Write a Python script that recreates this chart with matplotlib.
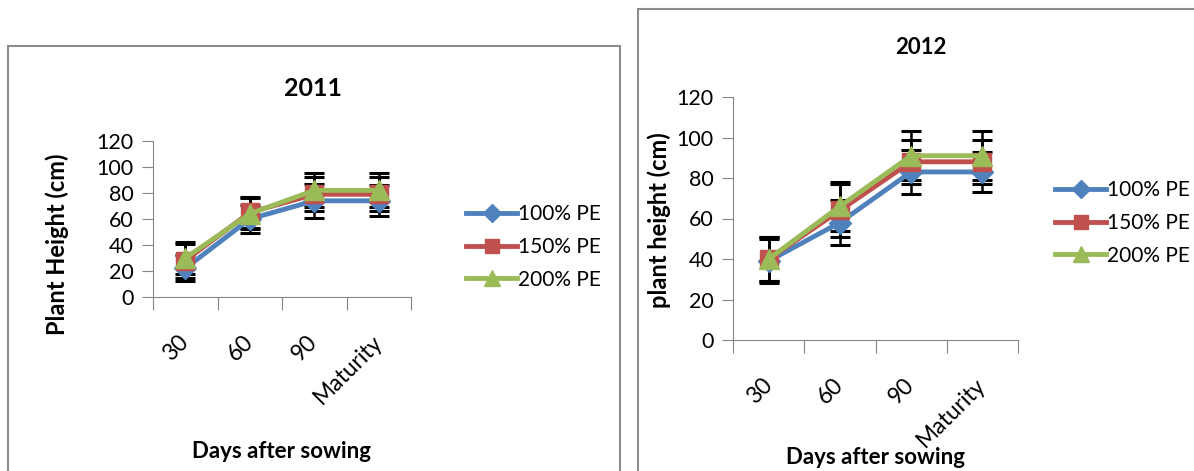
import matplotlib
matplotlib.use('Agg')
import matplotlib.pyplot as plt
from matplotlib.patches import Rectangle

plt.rcParams['font.family'] = ['Lato', 'DejaVu Sans']

# data
days = ['30', '60', '90', 'Maturity']
series = ['100% PE', '150% PE', '200% PE']

h2011_100 = [22, 60, 74, 74]
h2011_150 = [28, 65, 79, 79]
h2011_200 = [30, 64, 82, 82]
err2011_100 = [10, 11, 13, 12]
err2011_150 = [13, 12, 13, 13]
err2011_200 = [12, 12, 13, 13]

h2012_100 = [39, 58, 83, 83]
h2012_150 = [40, 64, 88, 88]
h2012_200 = [40, 66, 91, 91]
err2012_100 = [11, 11, 11, 10]
err2012_150 = [11, 13, 11, 11]
err2012_200 = [11, 12, 12, 12]

colors = ['#4F81BD', '#C0504D', '#9BBB59']
markers = ['D', 's', '^']
msizes = [11, 13, 14]
grey = '#868686'

W, H = 1194, 471
fig = plt.figure(figsize=(W / 100, H / 100), dpi=100)


def px_axes(x0, x1, y0, y1):
    return fig.add_axes([x0 / W, 1 - y1 / H, (x1 - x0) / W, (y1 - y0) / H])


def draw_panel(ax, heights, errs, fs):
    x = list(range(len(days)))
    handles = []
    for h, e in zip(heights, errs):
        ax.errorbar(x, h, yerr=e, fmt='none', ecolor='black', elinewidth=1.8,
                    capsize=7, capthick=2.2, zorder=2)
    for h, c, m, ms, lab in zip(heights, colors, markers, msizes, series):
        ln, = ax.plot(x, h, color=c, lw=3.5, marker=m, ms=ms, mec=c,
                      solid_joinstyle='round', label=lab, zorder=3)
        handles.append(ln)

    ax.set_xlim(-0.5, len(days) - 0.5)
    ax.set_ylim(0, 120)
    ax.set_yticks(range(0, 121, 20))
    ax.set_xticks([i - 0.5 for i in range(len(days) + 1)])
    ax.set_xticklabels([])
    ax.set_xticks(x, minor=True)
    ax.set_xticklabels(days, minor=True)
    ax.tick_params(axis='x', which='major', length=9, color=grey, direction='out')
    ax.tick_params(axis='x', which='minor', length=0, pad=30, labelsize=fs + 1)
    ax.tick_params(axis='y', length=8, color=grey, direction='out', labelsize=fs,
                   pad=6)
    for t in ax.get_xticklabels(minor=True):
        t.set_rotation(45)
        t.set_ha('right')
        t.set_va('center')
        t.set_rotation_mode('anchor')
    for s in ['top', 'right']:
        ax.spines[s].set_visible(False)
    for s in ['left', 'bottom']:
        ax.spines[s].set_color(grey)
    return handles


def add_legend(handles, x, y):
    fig.legend(handles=handles, loc='center left',
               bbox_to_anchor=(x / W, 1 - y / H), frameon=False, fontsize=15,
               handlelength=2.45, handletextpad=0.05, labelspacing=0.6,
               borderpad=0, borderaxespad=0, markerscale=0.8)


# panel frames
fig.add_artist(Rectangle((8 / W, 1 - 490 / H), 612 / W, 444 / H,
                         transform=fig.transFigure, fill=False,
                         ec='#8c8c8c', lw=1.5))
fig.add_artist(Rectangle((638 / W, 1 - 490 / H), 600 / W, 481 / H,
                         transform=fig.transFigure, fill=False,
                         ec='#8c8c8c', lw=1.5))

# 2011
ax1 = px_axes(153, 411, 141, 297)
hd1 = draw_panel(ax1, [h2011_100, h2011_150, h2011_200],
                 [err2011_100, err2011_150, err2011_200], 15.5)
fig.text(313 / W, 1 - 88 / H, '2011', ha='center', va='center',
         fontsize=18, weight='bold')
fig.text(57 / W, 1 - 244 / H, 'Plant Height (cm)', rotation=90, ha='center',
         va='center', fontsize=17, weight='bold')
fig.text(281 / W, 1 - 452 / H, 'Days after sowing', ha='center', va='center',
         fontsize=16, weight='bold')
add_legend(hd1, 466, 247)

# 2012
ax2 = px_axes(733, 1018, 97, 340)
hd2 = draw_panel(ax2, [h2012_100, h2012_150, h2012_200],
                 [err2012_100, err2012_150, err2012_200], 15.5)
fig.text(921 / W, 1 - 48 / H, '2012', ha='center', va='center',
         fontsize=16, weight='bold')
fig.text(659 / W, 1 - 220 / H, 'plant height (cm)', rotation=90, ha='center',
         va='center', fontsize=17, weight='bold')
fig.text(876 / W, 1 - 457 / H, 'Days after sowing', ha='center', va='center',
         fontsize=16, weight='bold')
add_legend(hd2, 1055, 223)

fig.savefig('out.png', dpi=100)
